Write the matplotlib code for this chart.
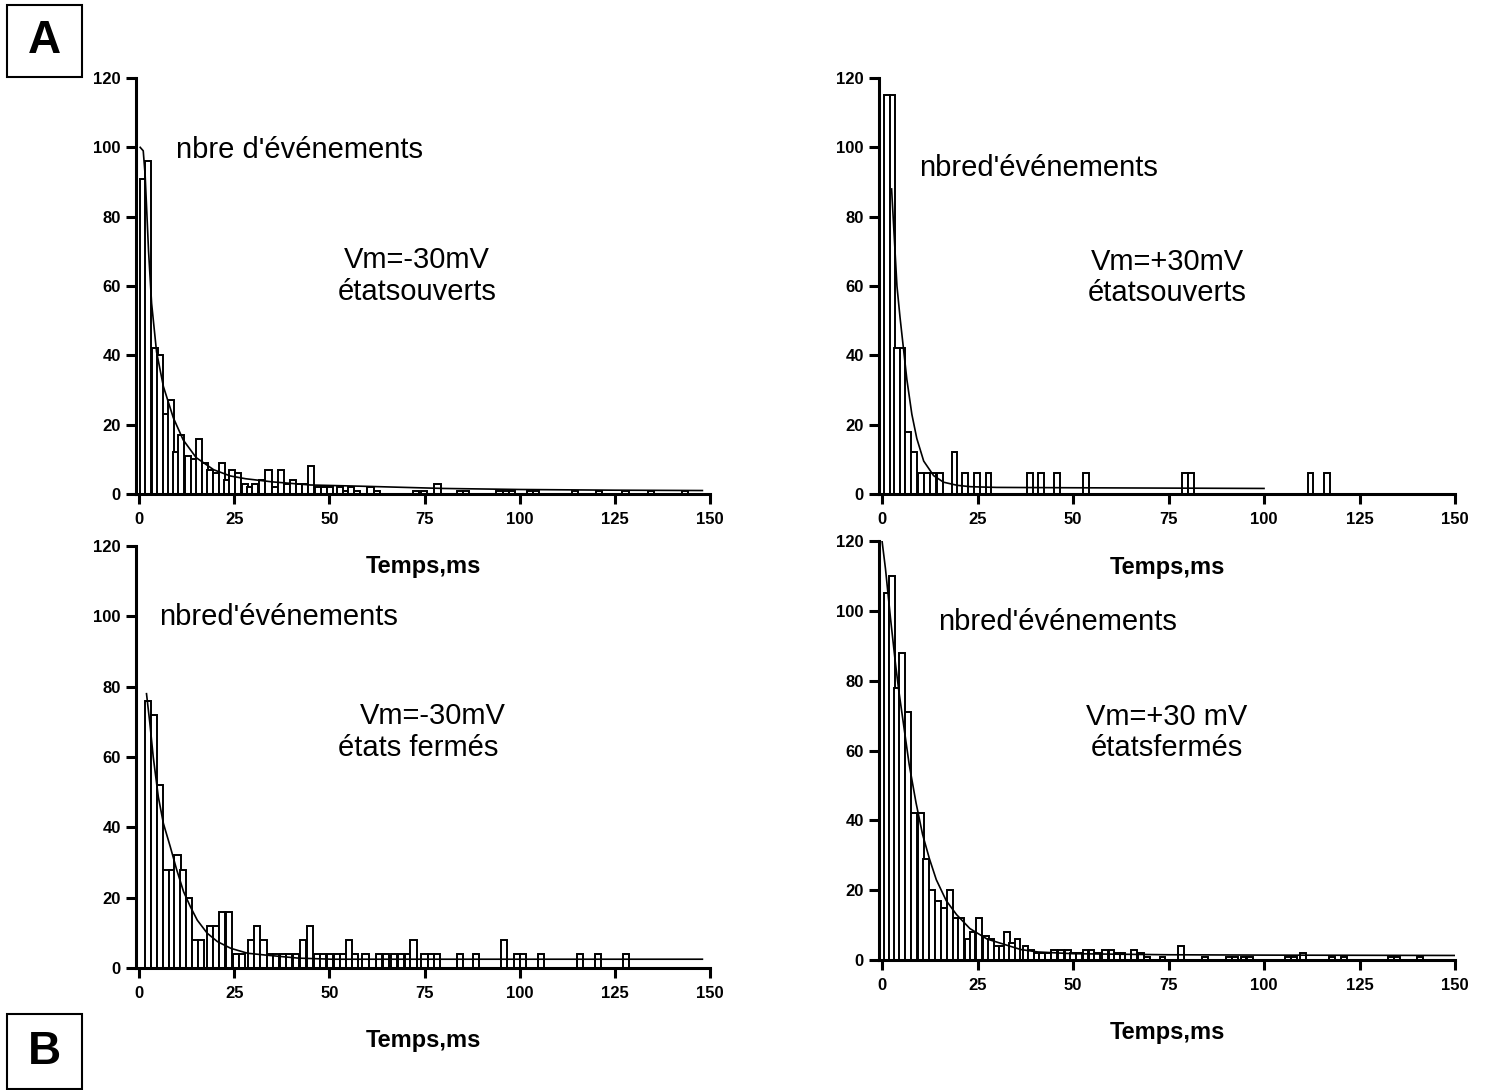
import matplotlib
matplotlib.use('Agg')
import matplotlib.pyplot as plt
from matplotlib.patches import Rectangle

plt.rcParams['font.family'] = ['Liberation Sans', 'DejaVu Sans']

# --- A, Vm=-30mV, open states (bar left edge in ms, number of events)
al_left = [0.3, 1.6, 3.3, 4.6, 6.2, 7.6, 9.0, 10.3, 12.1, 13.6,
           14.9, 16.5, 17.8, 19.4, 20.9, 22.3, 23.6, 25.3, 27.0, 28.3,
           29.7, 31.4, 33.2, 34.9, 36.5, 38.1, 39.7, 41.2, 42.8, 44.4,
           46.3, 47.8, 49.4, 52.0, 53.5, 55.0, 56.5, 60.0, 61.6, 72.0,
           74.0, 77.6, 83.6, 85.1, 93.9, 95.5, 97.1, 101.9, 103.5, 113.7,
           120.0, 127.0, 133.6, 142.7]
al_n = [91, 96, 42, 40, 23, 27, 12, 17, 11, 10,
        16, 9, 7, 6, 9, 4, 7, 6, 3, 2,
        3, 4, 7, 2, 7, 3, 4, 3, 3, 8,
        2, 2, 2, 2, 1, 2, 1, 2, 1, 1,
        1, 3, 1, 1, 1, 1, 1, 1, 1, 1,
        1, 1, 1, 1]
al_fit_t = [0.3, 1.1, 1.6, 2.5, 3.3, 4.6, 6.4, 9.0, 11.6, 15.0,
            19.6, 24.0, 28.0, 35.0, 45.0, 60.0, 80.0, 100.0, 125.0, 148.0]
al_fit_n = [100, 99, 92, 70, 55, 41, 31, 22, 15.6, 10.5,
            7, 5.2, 4.4, 3.5, 2.6, 2.2, 1.6, 1.3, 1.1, 1.0]

# --- A, Vm=+30mV, open states
ar_left = [0.6, 2.0, 3.2, 4.6, 6.1, 7.7, 9.4, 11.0, 12.6, 14.4,
           18.2, 21.0, 24.1, 27.1, 38.0, 40.8, 45.0, 52.6, 78.6, 80.1,
           111.4, 115.8]
ar_n = [115, 115, 42, 42, 18, 12, 6, 6, 6, 6,
        12, 6, 6, 6, 6, 6, 6, 6, 6, 6,
        6, 6]
ar_fit_t = [2.5, 3.0, 3.9, 4.7, 5.6, 6.5, 7.8, 9.1, 10.9, 13.5,
            16.1, 19.7, 23.2, 30.0, 50.0, 75.0, 100.0]
ar_fit_n = [88, 78, 60, 51, 42, 33, 23, 16, 9.5, 5.3,
            3.4, 2.5, 2.1, 1.9, 1.8, 1.7, 1.6]

# --- B, Vm=-30mV, closed states
bl_left = [1.5, 3.2, 4.8, 6.4, 7.9, 9.3, 10.8, 12.3, 13.9, 15.5,
           17.9, 19.5, 21.0, 22.8, 24.6, 26.3, 28.6, 30.3, 31.9, 33.5,
           35.2, 37.0, 38.7, 40.4, 42.3, 44.1, 45.9, 47.6, 49.4, 51.2,
           52.9, 54.3, 55.9, 58.7, 62.2, 64.0, 66.2, 68.0, 69.8, 71.3,
           74.2, 76.0, 77.5, 83.5, 87.7, 95.0, 98.4, 100.0, 104.8, 115.0,
           119.7, 127.1]
bl_n = [76, 72, 52, 28, 28, 32, 28, 20, 8, 8,
        12, 12, 16, 16, 4, 4, 8, 12, 8, 4,
        4, 4, 4, 4, 8, 12, 4, 4, 4, 4,
        4, 8, 4, 4, 4, 4, 4, 4, 4, 8,
        4, 4, 4, 4, 4, 8, 4, 4, 4, 4,
        4, 4]
bl_fit_t = [1.96, 2.84, 3.73, 5.06, 6.4, 8.2, 9.9, 11.7, 13.5, 15.3,
            17.9, 20.6, 24.1, 28.5, 33.0, 41.9, 50.7, 75.0, 100.0, 148.0]
bl_fit_n = [78, 69.6, 60, 48.7, 41.1, 34.5, 27.9, 21.7, 17.4, 13.6,
            9.9, 7.5, 5.6, 4.2, 3.7, 2.8, 2.5, 2.5, 2.5, 2.5]

# --- B, Vm=+30mV, closed states
br_left = [0.4, 1.8, 3.2, 4.5, 6.0, 7.7, 9.4, 10.8, 12.4, 13.9,
           15.4, 17.0, 18.5, 19.9, 21.6, 22.9, 24.7, 26.4, 27.8, 29.2,
           30.6, 32.0, 33.3, 34.7, 36.8, 38.2, 39.7, 41.2, 42.7, 44.3,
           46.1, 47.9, 49.3, 50.8, 52.5, 54.1, 55.6, 57.6, 59.3, 60.7,
           62.2, 65.2, 67.0, 68.7, 72.7, 77.6, 83.8, 90.0, 91.6, 93.9,
           95.5, 105.5, 107.1, 109.5, 117.0, 120.1, 132.5, 134.1, 140.0]
br_n = [105, 110, 78, 88, 71, 42, 42, 29, 20, 17,
        15, 20, 12, 12, 6, 8, 12, 7, 6, 4,
        4, 8, 5, 6, 4, 3, 2, 2, 2, 3,
        3, 3, 2, 2, 3, 3, 2, 3, 3, 2,
        2, 3, 2, 1, 1, 4, 1, 1, 1, 1,
        1, 1, 1, 2, 1, 1, 1, 1, 1]
br_fit_t = [0.0, 0.9, 2.2, 3.5, 4.4, 5.3, 7.1, 8.9, 10.6, 12.4,
            14.2, 16.8, 19.5, 23.0, 27.5, 31.9, 36.3, 40.8, 50.0, 75.0,
            100.0, 150.0]
br_fit_n = [120, 112, 98, 85, 77, 70, 56, 45, 36, 29,
            23, 17, 13, 9, 6, 4.5, 3, 2.3, 1.8, 1.5,
            1.4, 1.3]

x_ticks = [0, 25, 50, 75, 100, 125, 150]
y_ticks = [0, 20, 40, 60, 80, 100, 120]

W, H = 1488, 1090
fig = plt.figure(figsize=(W / 100, H / 100), dpi=100)


def add_ax(x0, x1, y_top, y_bot):
    ax = fig.add_axes([x0 / W, 1 - y_bot / H, (x1 - x0) / W, (y_bot - y_top) / H])
    ax.patch.set_visible(False)  # otherwise the lower axes hide the upper xlabels
    return ax


def panel(ax, lefts, counts, width, fit_t, fit_n, label_px):
    ax.bar(lefts, counts, width=width, align='edge', color='white',
           edgecolor='black', linewidth=1.4, zorder=2)
    ax.plot(fit_t, fit_n, color='black', lw=1.2, zorder=3)
    ax.set_xlim(-0.8, 150)
    ax.set_ylim(0, 120)
    ax.set_xticks(x_ticks)
    ax.set_yticks(y_ticks)
    for s in ['top', 'right']:
        ax.spines[s].set_visible(False)
    for s in ['left', 'bottom']:
        ax.spines[s].set_linewidth(2.2)
    ax.tick_params(direction='out', length=7, width=2.2, labelsize=12)
    ax.tick_params(axis='x', pad=6)
    ax.tick_params(axis='y', pad=4)
    for lab in ax.get_xticklabels() + ax.get_yticklabels():
        lab.set_fontweight('bold')
    ax.set_xlabel('Temps,ms', fontsize=17, fontweight='bold')
    h_px = ax.get_position().height * H
    ax.xaxis.set_label_coords(0.5, -label_px / h_px)
    ax.xaxis.label.set_va('center')


ax1 = add_ax(136, 710, 78, 494)
ax2 = add_ax(879, 1455, 78, 494)
ax3 = add_ax(136, 710, 546, 968)
ax4 = add_ax(879, 1455, 541, 960)

panel(ax1, al_left, al_n, 1.6, al_fit_t, al_fit_n, 72)
panel(ax2, ar_left, ar_n, 1.5, ar_fit_t, ar_fit_n, 73)
panel(ax3, bl_left, bl_n, 1.6, bl_fit_t, bl_fit_n, 72)
panel(ax4, br_left, br_n, 1.5, br_fit_t, br_fit_n, 73)


def ftext(x, y, s, **kw):
    fig.text(x / W, 1 - y / H, s, ha='center', va='center', fontsize=21, **kw)


ftext(299, 150, "nbre d'événements")
ftext(417, 260, "Vm=-30mV")
ftext(417, 292, "étatsouverts")

ftext(1039, 168, "nbred'événements")
ftext(1167, 262, "Vm=+30mV")
ftext(1167, 293, "étatsouverts")

ftext(279, 617, "nbred'événements")
ftext(433, 716, "Vm=-30mV")
ftext(418, 748, "états fermés")

ftext(1058, 622, "nbred'événements")
ftext(1167, 717, "Vm=+30 mV")
ftext(1167, 748, "étatsfermés")

# panel letters in boxes
for letter, (x0, y0, x1, y1) in [('A', (7, 5, 82, 77)), ('B', (7, 1014, 82, 1089))]:
    fig.patches.append(Rectangle((x0 / W, 1 - y1 / H), (x1 - x0) / W, (y1 - y0) / H,
                                 transform=fig.transFigure, fill=False,
                                 edgecolor='black', linewidth=1.5))
    fig.text((x0 + x1) / 2 / W, 1 - (y0 + y1) / 2 / H, letter, ha='center',
             va='center', fontsize=33, fontweight='bold')

fig.savefig('out.png', dpi=100, facecolor='white')
